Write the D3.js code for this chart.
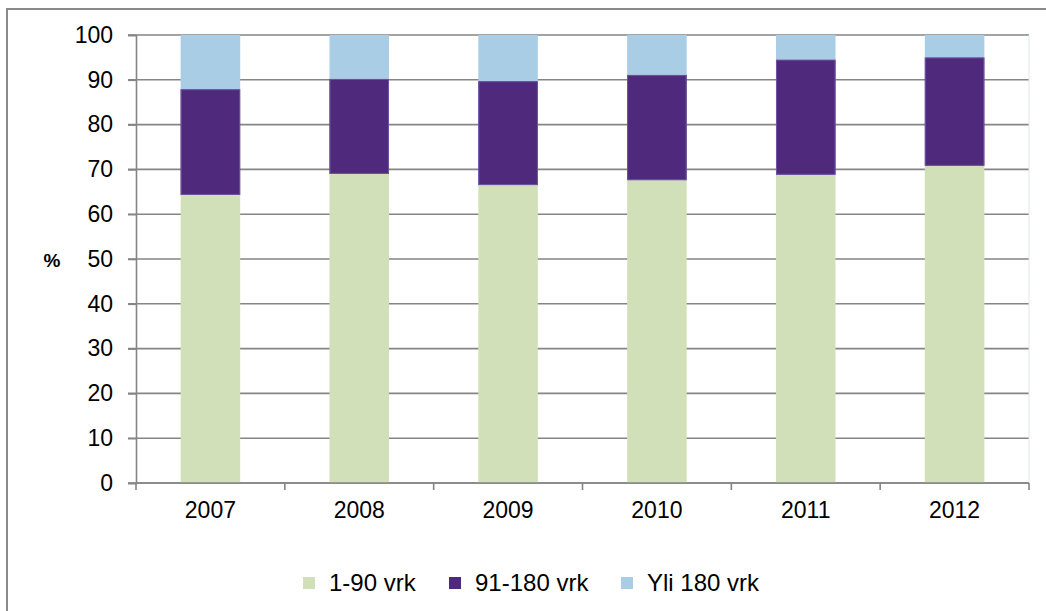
<!DOCTYPE html>
<html>
<head>
<meta charset="utf-8">
<script src="https://cdn.jsdelivr.net/npm/d3@7"></script>
<style>
  html, body { margin: 0; padding: 0; background: #fff; overflow: hidden; }
  text { font-family: "Liberation Sans", Arial, sans-serif; fill: #000; }
</style>
</head>
<body>
<svg id="chart" width="1046" height="611"></svg>
<script>
const years = ["2007", "2008", "2009", "2010", "2011", "2012"]
const shortStay = [64.3, 69.0, 66.5, 67.6, 68.8, 70.8]
const midStay = [23.6, 21.2, 23.2, 23.5, 25.7, 24.2]
const longStay = [12.1, 9.8, 10.3, 8.9, 5.5, 5.0]
const seriesNames = ["1-90 vrk", "91-180 vrk", "Yli 180 vrk"]
const seriesColors = ["#d2e0b9", "#4e297c", "#a9cde4"]
const yTicks = [0, 10, 20, 30, 40, 50, 60, 70, 80, 90, 100]

const svg = d3.select("#chart")
const margin = { left: 136, top: 35, right: 1029, bottom: 483 }

// outer frame, runs off the right and bottom edges
svg.append("rect")
    .attr("x", 7).attr("y", 9)
    .attr("width", 1200).attr("height", 800)
    .attr("fill", "none")
    .attr("stroke", "#8a8a8a")
    .attr("stroke-width", 2)

const x = d3.scaleBand()
    .domain(years)
    .range([margin.left, margin.right])
    .paddingInner(0.6)
    .paddingOuter(0.3)

const xOuter = d3.scaleBand().domain(years).range([margin.left, margin.right])

const y = d3.scaleLinear().domain([0, 100]).range([margin.bottom, margin.top])

// gridlines
svg.append("g")
    .selectAll("line")
    .data(yTicks)
    .join("line")
    .attr("x1", margin.left - 8)
    .attr("x2", margin.right)
    .attr("y1", d => y(d))
    .attr("y2", d => y(d))
    .attr("stroke", "#858585")
    .attr("stroke-width", 1.6)

// right plot edge
svg.append("line")
    .attr("x1", margin.right).attr("x2", margin.right)
    .attr("y1", margin.top).attr("y2", margin.bottom)
    .attr("stroke", "#dfe6ee")

const rows = years.map((yr, i) => ({ year: yr, s0: shortStay[i], s1: midStay[i], s2: longStay[i] }))
const stacked = d3.stack().keys(["s0", "s1", "s2"])(rows)

svg.append("g")
    .selectAll("g")
    .data(stacked)
    .join("g")
    .attr("fill", (d, i) => seriesColors[i])
    .selectAll("rect")
    .data(d => d)
    .join("rect")
    .attr("x", d => x(d.data.year))
    .attr("width", x.bandwidth())
    .attr("y", d => y(d[1]))
    .attr("height", d => y(d[0]) - y(d[1]))

// thin lighter edge on purple segments
svg.append("g")
    .selectAll("rect")
    .data(stacked[1])
    .join("rect")
    .attr("x", d => x(d.data.year) + 0.5)
    .attr("width", x.bandwidth() - 1)
    .attr("y", d => y(d[1]) + 0.5)
    .attr("height", d => y(d[0]) - y(d[1]) - 1)
    .attr("fill", "none")
    .attr("stroke", "#6f55a0")
    .attr("stroke-width", 1)

// y axis
const yAxis = svg.append("g")
    .attr("transform", `translate(${margin.left},0)`)
    .call(d3.axisLeft(y).tickValues(yTicks).tickSize(8).tickPadding(15))
yAxis.select(".domain").attr("stroke", "#858585").attr("stroke-width", 1.6)
yAxis.selectAll(".tick line").attr("stroke", "#858585").attr("stroke-width", 1.6)
yAxis.selectAll(".tick text")
    .attr("font-size", 23)
    .attr("font-family", "Liberation Sans, Arial, sans-serif")
    .attr("fill", "#000")

// x axis: ticks between categories
const xg = svg.append("g")
xg.append("line")
    .attr("x1", margin.left).attr("x2", margin.right)
    .attr("y1", margin.bottom).attr("y2", margin.bottom)
    .attr("stroke", "#858585").attr("stroke-width", 1.6)
const boundaries = years.map(d => xOuter(d)).concat([margin.right])
xg.selectAll("line.tk")
    .data(boundaries)
    .join("line")
    .attr("class", "tk")
    .attr("x1", d => d).attr("x2", d => d)
    .attr("y1", margin.bottom).attr("y2", margin.bottom + 7)
    .attr("stroke", "#858585").attr("stroke-width", 1.6)
xg.selectAll("text")
    .data(years)
    .join("text")
    .attr("x", d => xOuter(d) + xOuter.bandwidth() / 2)
    .attr("y", 518)
    .attr("text-anchor", "middle")
    .attr("font-size", 23)
    .text(d => d)

// y title
svg.append("text")
    .attr("x", 52).attr("y", 267)
    .attr("text-anchor", "middle")
    .attr("font-size", 19)
    .attr("font-weight", "bold")
    .text("%")

// legend
const legendX = [303, 449, 621]
const legend = svg.append("g")
    .selectAll("g")
    .data(seriesNames)
    .join("g")
    .attr("transform", (d, i) => `translate(${legendX[i]},577)`)
legend.append("rect")
    .attr("width", 12).attr("height", 12)
    .attr("fill", (d, i) => seriesColors[i])
legend.append("text")
    .attr("x", 26).attr("y", 14)
    .attr("font-size", 24)
    .text(d => d)
</script>
</body>
</html>
